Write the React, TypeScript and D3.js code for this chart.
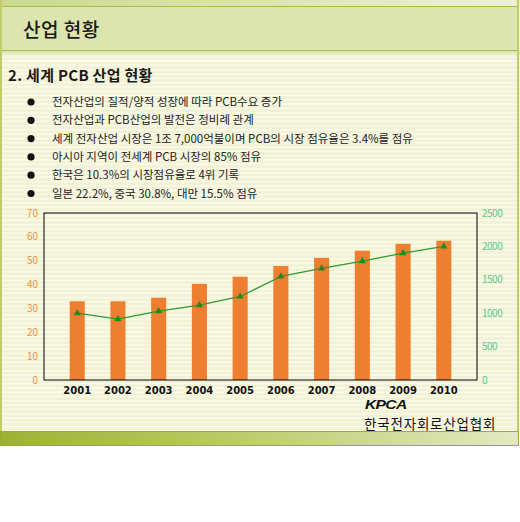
import React from "react";
import * as d3 from "d3";

const YEARS = ["2001", "2002", "2003", "2004", "2005", "2006", "2007", "2008", "2009", "2010"];
// bars: left axis (0-70)
const BAR_VALUES = [33, 33, 34.5, 40.3, 43.3, 47.8, 51.2, 54.2, 57.1, 58.4];
// line: right axis (0-2500)
const LINE_VALUES = [1000, 910, 1030, 1120, 1250, 1550, 1670, 1780, 1900, 2000];
const LEFT_TICKS = [0, 10, 20, 30, 40, 50, 60, 70];
const RIGHT_TICKS = [0, 500, 1000, 1500, 2000, 2500];
const BULLETS = [
  "전자산업의 질적/양적 성장에 따라 PCB수요 증가",
  "전자산업과 PCB산업의 발전은 정비례 관계",
  "세계 전자산업 시장은 1조 7,000억불이며 PCB의 시장 점유율은 3.4%를 점유",
  "아시아 지역이 전세계 PCB 시장의 85% 점유",
  "한국은 10.3%의 시장점유율로 4위 기록",
  "일본 22.2%, 중국 30.8%, 대만 15.5% 점유",
];

const FONT = "'Noto Sans CJK KR', 'Noto Sans', sans-serif";
const W = 520;
const H = 522;

export default function App() {
  const plot = { left: 44, right: 477, top: 213, bottom: 380 };

  const x = d3.scaleBand().domain(YEARS).range([plot.left, plot.right]).padding(0.63);
  const yL = d3.scaleLinear().domain([0, 70]).range([plot.bottom, plot.top]);
  const yR = d3.scaleLinear().domain([0, 2500]).range([plot.bottom, plot.top]);

  const cx = (d: string) => (x(d) as number) + x.bandwidth() / 2;
  const line = d3
    .line<number>()
    .x((_, i) => cx(YEARS[i]))
    .y((d) => yR(d));
  const tri = d3.symbol().type(d3.symbolTriangle).size(22)();

  return (
    <svg
      width={W}
      height={H}
      style={{ position: "absolute", left: 0, top: 0, display: "block" }}
      fontFamily={FONT}
    >
      <defs>
        <pattern id="stripes" width="8" height="4.3" patternUnits="userSpaceOnUse">
          <rect width="8" height="4.3" fill="#f1f1d3" />
          <rect y="0" width="8" height="2" fill="#fafae9" />
        </pattern>
        <linearGradient id="topbar" x1="0" x2="1">
          <stop offset="0" stopColor="#c9d98c" />
          <stop offset="1" stopColor="#eef2d2" />
        </linearGradient>
        <linearGradient id="botbar" x1="0" x2="1">
          <stop offset="0" stopColor="#9db234" />
          <stop offset="0.35" stopColor="#b4c65a" />
          <stop offset="1" stopColor="#e3e9c2" />
        </linearGradient>
        <linearGradient id="sub" x1="0" x2="0" y1="0" y2="1">
          <stop offset="0" stopColor="#d9e3a8" />
          <stop offset="1" stopColor="#f6f7e2" />
        </linearGradient>
      </defs>

      {/* background */}
      <rect x={0} y={0} width={W} height={H} fill="#ffffff" />
      <rect x={0} y={0} width={W} height={431} fill="url(#stripes)" />
      <rect x={0} y={0} width={W} height={6} fill="url(#topbar)" />
      <rect x={0.5} y={6.5} width={W - 2} height={44} fill="#dce5ad" stroke="#a9c040" />
      <rect x={0} y={51} width={W} height={6} fill="url(#sub)" />
      <rect x={0} y={0} width={2} height={446} fill="#c3cc6a" />
      <rect x={W - 3} y={0} width={2} height={446} fill="#c3cc6a" />
      <rect x={0.5} y={431.5} width={W - 2} height={14} fill="url(#botbar)" stroke="#98ad30" />

      {/* headings */}
      <text x={23} y={37} fontSize={19} fontWeight={500} fill="#1a1a1a" letterSpacing={0.5}>
        산업 현황
      </text>
      <text x={8} y={81} fontSize={15} fontWeight={700} fill="#1a1a1a" letterSpacing={0.3}>
        2. 세계 PCB 산업 현황
      </text>

      {BULLETS.map((b, i) => {
        const yy = 102 + i * 18.3;
        return (
          <g key={i}>
            <circle cx={31} cy={yy} r={3.6} fill="#111" />
            <text x={52} y={yy + 4} fontSize={11.5} fill="#222">
              {b}
            </text>
          </g>
        );
      })}

      {/* bars */}
      {YEARS.map((yr, i) => (
        <rect
          key={yr}
          x={x(yr)}
          y={yL(BAR_VALUES[i])}
          width={x.bandwidth()}
          height={plot.bottom - yL(BAR_VALUES[i])}
          fill="#ee7f31"
        />
      ))}

      {/* frame */}
      <rect
        x={plot.left}
        y={plot.top}
        width={plot.right - plot.left}
        height={plot.bottom - plot.top}
        fill="none"
        stroke="#000"
        strokeWidth={1}
      />

      {/* line */}
      <path d={line(LINE_VALUES) || ""} fill="none" stroke="#2f9a2f" strokeWidth={1.3} />
      {LINE_VALUES.map((v, i) => (
        <path
          key={i}
          d={tri || ""}
          transform={`translate(${cx(YEARS[i])},${yR(v)})`}
          fill="#1f8a1f"
        />
      ))}

      {/* left axis */}
      {LEFT_TICKS.map((t) => (
        <text key={t} x={38} y={yL(t) + 3.5} fontSize={10} textAnchor="end" fill="#f39430">
          {t}
        </text>
      ))}
      {/* right axis */}
      {RIGHT_TICKS.map((t) => (
        <text key={t} x={482} y={yR(t) + 3.5} fontSize={10} fill="#5fc88c" letterSpacing={-0.5}>
          {t}
        </text>
      ))}
      {/* x labels */}
      {YEARS.map((yr) => (
        <text
          key={yr}
          x={cx(yr)}
          y={394}
          fontSize={10}
          fontWeight={700}
          textAnchor="middle"
          fill="#111"
          fontFamily="'DejaVu Sans', sans-serif"
        >
          {yr}
        </text>
      ))}

      {/* logo */}
      <text
        transform="translate(365,409) scale(1.3,1)"
        fontSize={12}
        fontWeight={900}
        fontStyle="italic"
        fill="#111"
        fontFamily="'Liberation Sans', Arial, sans-serif"
        letterSpacing={-0.5}
      >
        KPCA
      </text>
      <text x={364} y={429} fontSize={13.5} fill="#111" letterSpacing={0.8}>
        한국전자회로산업협회
      </text>
    </svg>
  );
}
